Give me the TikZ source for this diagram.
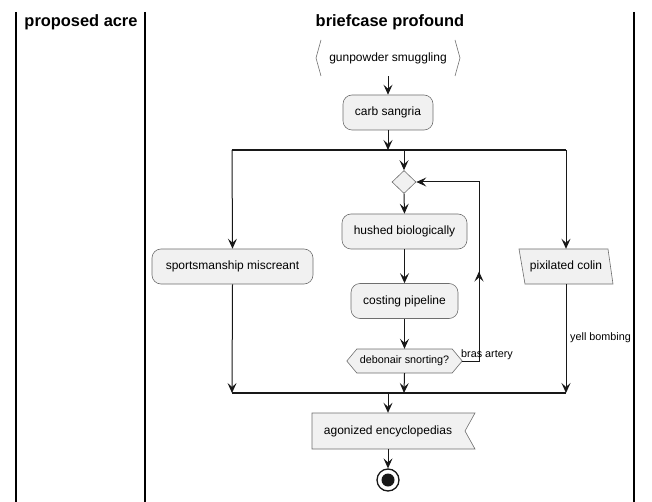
\documentclass[tikz,border=0pt]{standalone}
\usepackage{fontspec}
\setmainfont{Liberation Sans}
\usetikzlibrary{arrows.meta,shapes.geometric,calc}
\definecolor{actfill}{HTML}{F1F1F1}
\definecolor{actline}{HTML}{6E6E6E}
\definecolor{arrline}{HTML}{181818}
\tikzset{
  act/.style={draw=actline,fill=actfill,line width=0.6pt,rounded corners=9pt,inner sep=0pt,
    minimum height=35pt,font=\fontsize{12}{14}\selectfont},
  ghost/.style={draw=none,inner sep=0pt,font=\fontsize{12}{14}\selectfont},
  outline/.style={draw=actline,fill=actfill,line width=0.6pt},
  conn/.style={draw=arrline,line width=1pt},
  arr/.style={conn,-{Stealth[length=10pt,width=9pt,inset=4pt]}},
  bar/.style={draw=arrline,line width=1.8pt},
  lane/.style={draw=black,line width=1.4pt},
  lanetitle/.style={font=\bfseries\fontsize{16.4}{19}\selectfont,inner sep=0pt},
  elabel/.style={font=\fontsize{10.8}{13}\selectfont,inner sep=0pt}
}
\begin{document}
\begin{tikzpicture}[x=1pt,y=-1pt]
\useasboundingbox (0,0) rectangle (652,502);
% lanes
\draw[lane] (16,12) -- (16,502);
\draw[lane] (145,12) -- (145,502);
\draw[lane] (634,12) -- (634,502);
\node[lanetitle] (t1) at (81,22) {proposed acre};
\node[lanetitle] (t2) at (390,22) {briefcase profound};

% start (chevrons)
\node[ghost,minimum width=144pt,minimum height=36pt] (g) at (388,58) {gunpowder smuggling};
\draw[actline,line width=0.6pt] (321,40) -- (316,58) -- (321,76);
\draw[actline,line width=0.6pt] (455,40) -- (460,58) -- (455,76);

\node[act,minimum width=90pt] (cs) at (388,112.5) {carb sangria};

% fork
\coordinate (fork) at (388,150);
\coordinate (fL) at (232,150);
\coordinate (fM) at (404,150);
\coordinate (fR) at (566,150);
\draw[bar] (fL) -- (fR);

\node[draw=actline,fill=actfill,line width=0.6pt,diamond,inner sep=0pt,minimum width=24pt,minimum height=23pt] (dia) at (404,182) {};
\node[act,minimum width=125pt] (hb) at (404.5,231.5) {hushed biologically};
\node[act,minimum width=107pt] (cp) at (404.5,301) {costing pipeline};
\node[ghost,minimum width=115pt,minimum height=24pt] (deb) at (404.5,361) {};
\draw[outline] (deb.west) -- ++(10,-12) -- ($(deb.east)+(-10,-12)$) -- (deb.east) -- ++(-10,12) -- ($(deb.west)+(10,12)$) -- cycle;
\node[elabel] at (deb) {debonair snorting?};

\node[act,minimum width=161pt] (sm) at (232.5,266.5) {sportsmanship miscreant};

\node[ghost,minimum width=94pt,minimum height=35pt] (pc) at (566,266.5) {};
\draw[outline] (519,249) -- (608,249) -- (613,284) -- (525,284) -- cycle;
\node[ghost] at (566,266.5) {pixilated colin};

% join
\coordinate (jL) at (232,393);
\coordinate (jM) at (404,393);
\coordinate (jR) at (566,393);
\coordinate (join) at (388,393);
\draw[bar] (jL) -- (jR);

\node[ghost,minimum width=150pt,minimum height=36pt] (ag) at (388,431) {};
\draw[outline] (312,413) -- (475,413) -- (465,431) -- (475,449) -- (312,449) -- cycle;
\node[ghost] at (388,431) {agonized encyclopedias};

\node[circle,draw=arrline,line width=1.3pt,fill=white,minimum size=22pt,inner sep=0pt] (end) at (388,480) {};
\fill[arrline] (end) circle (6.5pt);

% connectors
\draw[arr] (g.south) -- (cs.north);
\draw[arr] (cs.south) -- (fork);
\draw[arr] (fL) -- (sm.north);
\draw[arr] (fM) -- (dia.north);
\draw[arr] (fR) -- (pc.north);
\draw[arr] (dia.south) -- (hb.north);
\draw[arr] (hb.south) -- (cp.north);
\draw[arr] (cp.south) -- (deb.north);
\draw[arr] (deb.south) -- (jM);
\coordinate (lb) at (479,361);
\coordinate (lt) at (479,182);
\draw[arr] (deb.east) -- (lb) -- (lt) -- (dia.east);
\draw[arr] (lb) -- ($(lb)!0.5!(lt)$);
\node[elabel,anchor=west] (bras) at (461,355) {bras artery};
\draw[arr] (sm.south) -- (jL);
\draw[arr] (pc.south) -- (jR);
\node[elabel,anchor=west] (yell) at (570,338) {yell bombing};
\draw[arr] (join) -- (ag.north);
\draw[arr] (ag.south) -- (end.north);
\end{tikzpicture}
\end{document}
